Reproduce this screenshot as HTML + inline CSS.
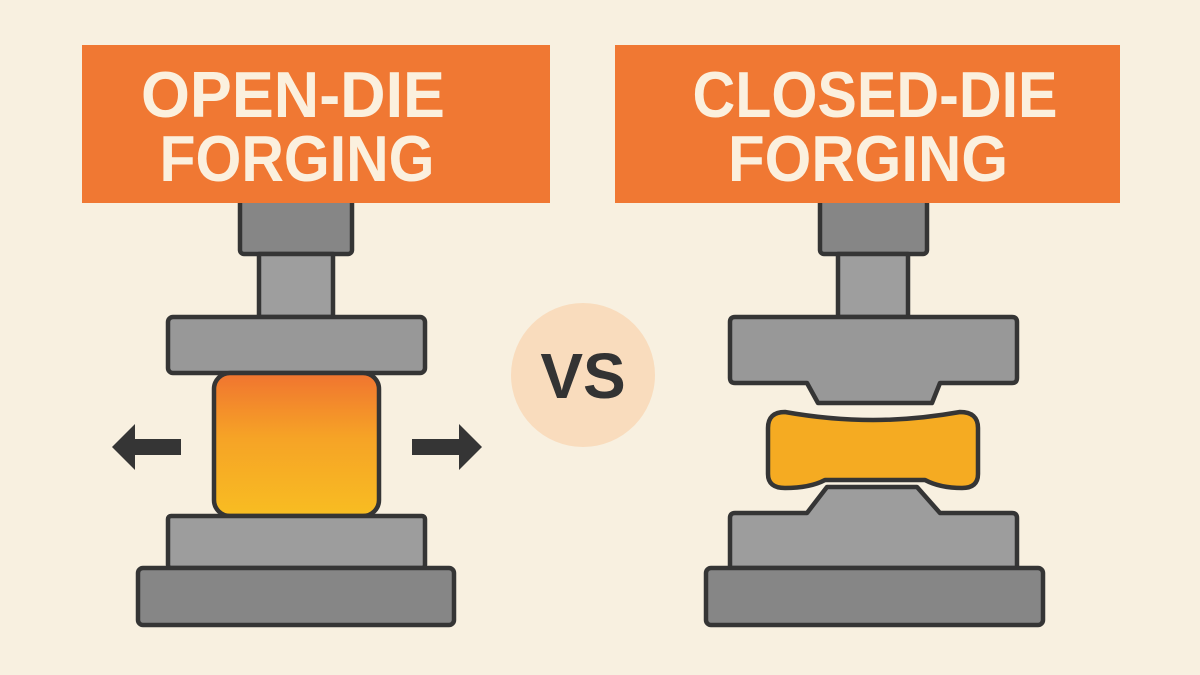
<!DOCTYPE html>
<html><head><meta charset="utf-8"><style>
html,body{margin:0;padding:0;background:#f8f0e0;}
svg{display:block}
</style></head><body>
<svg width="1200" height="675" viewBox="0 0 1200 675" xmlns="http://www.w3.org/2000/svg">
<defs>
<linearGradient id="hot" x1="0" y1="0" x2="0" y2="1">
<stop offset="0" stop-color="#f07430"/>
<stop offset="0.45" stop-color="#f6a326"/>
<stop offset="1" stop-color="#f8bd22"/>
</linearGradient>
</defs>
<rect width="1200" height="675" fill="#f8f0e0"/>
<!-- VS -->
<circle cx="583" cy="375" r="72" fill="#f9dcbd"/>
<text x="583" y="398" font-family="Liberation Sans, sans-serif" font-weight="bold" font-size="64" fill="#333" text-anchor="middle">VS</text>

<g stroke="#353535" stroke-width="4.5" stroke-linejoin="round">
<!-- LEFT press -->
<rect x="240" y="190" width="112" height="64" rx="4" fill="#868686"/>
<rect x="259" y="254" width="74" height="63" fill="#9e9e9e"/>
<rect x="168" y="317" width="257" height="56" rx="5" fill="#989898"/>
<rect x="214" y="373" width="165" height="143" rx="16" fill="url(#hot)"/>
<rect x="168" y="516" width="257" height="52" rx="3" fill="#9d9d9d"/>
<rect x="138" y="568" width="316" height="57" rx="5" fill="#868686"/>

<!-- RIGHT press -->
<rect x="820" y="190" width="107" height="64" rx="4" fill="#868686"/>
<rect x="838" y="254" width="70" height="63" fill="#9e9e9e"/>
<path d="M735 317 H1012 Q1017 317 1017 322 V378 Q1017 383 1012 383 H940 L932 403 H818 L807 383 H735 Q730 383 730 378 V322 Q730 317 735 317 Z" fill="#989898"/>
<path d="M785 412 Q830 420 873 420 Q915 420 960 412 Q978 412 978 428 V474 Q978 488 962 488 Q940 488 925 480 H825 Q810 488 785 488 Q768 488 768 474 V428 Q768 412 785 412 Z" fill="#f5ab22"/>
<path d="M827 487 H917 L940 513 H1012 Q1017 513 1017 518 V568 H730 V518 Q730 513 735 513 H807 Z" fill="#9d9d9d"/>
<rect x="706" y="568" width="337" height="57" rx="5" fill="#868686"/>
</g>

<!-- banners -->
<rect x="82" y="45" width="468" height="158" fill="#f07833"/>
<rect x="615" y="45" width="505" height="158" fill="#f07833"/>
<g font-family="Liberation Sans, sans-serif" font-weight="bold" font-size="65" fill="#fbf0de" text-anchor="middle">
<text x="293" y="117" textLength="304" lengthAdjust="spacingAndGlyphs">OPEN-DIE</text>
<text x="297" y="181" textLength="275" lengthAdjust="spacingAndGlyphs">FORGING</text>
<text x="875" y="117" textLength="365" lengthAdjust="spacingAndGlyphs">CLOSED-DIE</text>
<text x="868" y="181" textLength="280" lengthAdjust="spacingAndGlyphs">FORGING</text>
</g>

<!-- arrows -->
<g fill="#353535">
<path d="M112 447 L135 424 V439 H181 V455 H135 V470 Z"/>
<path d="M482 447 L459 424 V439 H412 V455 H459 V470 Z"/>
</g>
</svg>
</body></html>
